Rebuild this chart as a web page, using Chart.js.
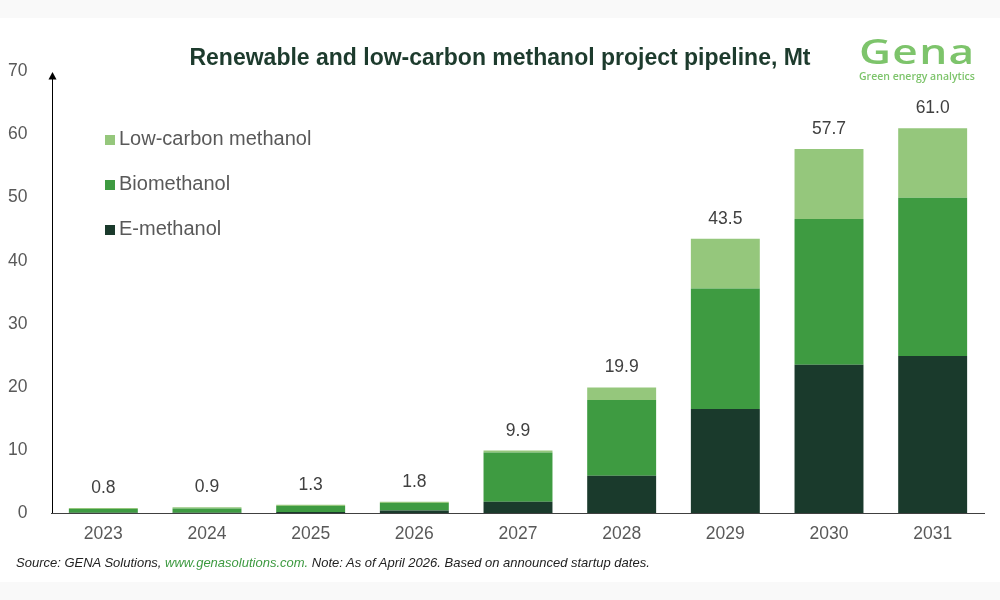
<!DOCTYPE html>
<html>
<head>
<meta charset="utf-8">
<script src="https://cdn.jsdelivr.net/npm/chart.js@4/dist/chart.umd.min.js"></script>
<style>
  html, body { margin: 0; padding: 0; }
  body { width: 1000px; height: 600px; background: #f9f9f9; position: relative; overflow: hidden; font-family: "Liberation Sans", Arial, sans-serif; }
  #panel { position: absolute; left: 0; top: 18px; width: 1000px; height: 564px; background: #ffffff; }
  #c { position: absolute; left: 0; top: 0; }
  #title { position: absolute; left: 0; width: 1000px; top: 43px; text-align: center; font-size: 23px; font-weight: bold; color: #1d3b2d; line-height: 28px; }
  #logo { position: absolute; left: 859px; top: 33px; width: 140px; color: #7dc46b; }
  #logo .big { display: inline-block; font-family: "Open Sans", sans-serif; font-weight: 600; font-size: 34px; line-height: 37px; letter-spacing: 1px; transform: scaleX(1.3); transform-origin: left center; white-space: nowrap; }
  #logo .small { font-family: "Open Sans", sans-serif; font-weight: 600; font-size: 10px; line-height: 12px; white-space: nowrap; transform: scaleX(1.05); transform-origin: left center; }
  #source { position: absolute; left: 16px; top: 555px; font-size: 13px; font-style: italic; color: #222; white-space: nowrap; }
  #source .lnk { color: #3d9a40; }
</style>
</head>
<body>
<div id="panel"></div>
<canvas id="c" width="1000" height="600"></canvas>
<div id="title">Renewable and low-carbon methanol project pipeline, Mt</div>
<div id="logo"><div class="big">Gena</div><div class="small">Green energy analytics</div></div>
<div id="source">Source: GENA Solutions, <span class="lnk">www.genasolutions.com.</span> Note: As of April 2026. Based on announced startup dates.</div>
<script>
const years = ['2023', '2024', '2025', '2026', '2027', '2028', '2029', '2030', '2031'];
const eMethanol = [0.05, 0.05, 0.15, 0.4, 1.8, 5.9, 16.5, 23.5, 24.9];
const bioMethanol = [0.6, 0.65, 0.95, 1.2, 7.8, 12.0, 19.1, 23.1, 25.1];
const lowCarbon = [0.15, 0.2, 0.2, 0.2, 0.3, 2.0, 7.9, 11.1, 11.0];
const seriesNames = ['E-methanol', 'Biomethanol', 'Low-carbon methanol'];
const seriesColors = ['#1a3a2c', '#3e9b41', '#95c77c'];
const yTicks = [0, 10, 20, 30, 40, 50, 60, 70];

const FONT = '"Liberation Sans", Arial, sans-serif';

const decor = {
  id: 'decor',
  afterDatasetsDraw(chart) {
    const ctx = chart.ctx;
    const xs = chart.scales.x, ys = chart.scales.y;
    const area = chart.chartArea;
    ctx.save();
    // axis line with arrow
    const ax = Math.round(area.left) + 0.5;
    const y0 = ys.getPixelForValue(0);
    const yTop = ys.getPixelForValue(70);
    ctx.strokeStyle = '#000';
    ctx.lineWidth = 1;
    ctx.beginPath();
    ctx.moveTo(ax, y0);
    ctx.lineTo(ax, yTop + 6);
    ctx.stroke();
    ctx.fillStyle = '#000';
    ctx.beginPath();
    ctx.moveTo(ax, yTop + 0.5);
    ctx.lineTo(ax - 4, yTop + 8);
    ctx.lineTo(ax + 4, yTop + 8);
    ctx.closePath();
    ctx.fill();
    // total labels
    ctx.fillStyle = '#404040';
    ctx.font = '17.5px ' + FONT;
    ctx.textAlign = 'center';
    ctx.textBaseline = 'alphabetic';
    years.forEach((yr, i) => {
      const total = eMethanol[i] + bioMethanol[i] + lowCarbon[i];
      const px = xs.getPixelForValue(i);
      const py = ys.getPixelForValue(total);
      ctx.fillText(total.toFixed(1), px, py - 15);
    });
    // legend (reverse order)
    ctx.font = '20px ' + FONT;
    ctx.textAlign = 'left';
    const order = [2, 1, 0];
    order.forEach((k, j) => {
      const base = 145 + j * 45;
      ctx.fillStyle = seriesColors[k];
      ctx.fillRect(105, base - 10, 10, 10);
      ctx.fillStyle = '#595959';
      ctx.fillText(seriesNames[k], 119, base);
    });
    ctx.restore();
  }
};

new Chart(document.getElementById('c'), {
  type: 'bar',
  data: {
    labels: years,
    datasets: [
      { label: seriesNames[0], data: eMethanol, backgroundColor: seriesColors[0] },
      { label: seriesNames[1], data: bioMethanol, backgroundColor: seriesColors[1] },
      { label: seriesNames[2], data: lowCarbon, backgroundColor: seriesColors[2] }
    ]
  },
  options: {
    responsive: false,
    animation: false,
    devicePixelRatio: 1,
    layout: { padding: { left: 0, top: 71.5, right: 15.5, bottom: 0 } },
    datasets: { bar: { categoryPercentage: 1.0, barPercentage: 0.665 } },
    plugins: { legend: { display: false }, tooltip: { enabled: false }, title: { display: false } },
    scales: {
      x: {
        stacked: true,
        grid: { display: false },
        border: { display: true, color: '#404040', width: 1 },
        ticks: { color: '#595959', font: { size: 17.5, family: FONT }, padding: 3, maxRotation: 0 },
        afterFit: s => { s.height = 87; }
      },
      y: {
        stacked: true,
        min: 0, max: 70,
        grid: { display: false },
        border: { display: false },
        afterBuildTicks: s => { s.ticks = yTicks.map(v => ({ value: v })); },
        ticks: { color: '#595959', font: { size: 17.5, family: FONT }, padding: 16 },
        afterFit: s => { s.width = 51.5; }
      }
    }
  },
  plugins: [decor]
});
</script>
</body>
</html>
